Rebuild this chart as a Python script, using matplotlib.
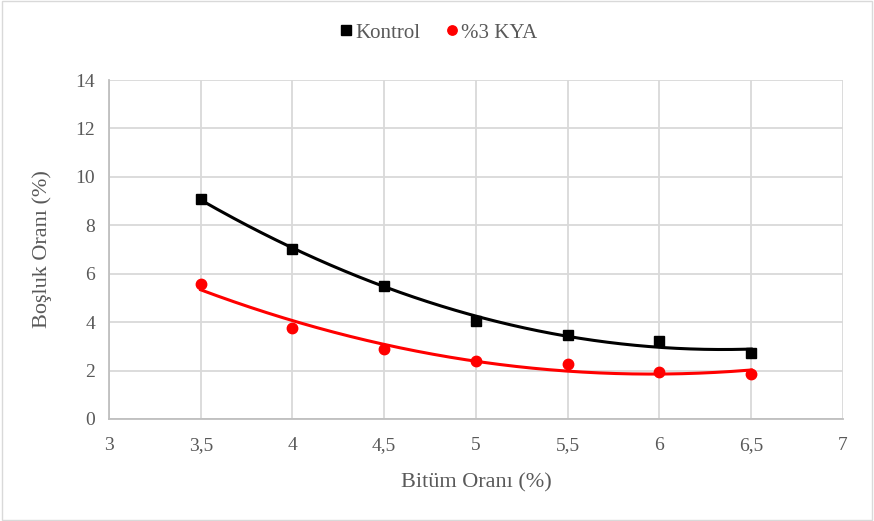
import numpy as np
import matplotlib
matplotlib.use("Agg")
import matplotlib.pyplot as plt
from matplotlib.patches import Rectangle

plt.rcParams['font.family'] = ['Liberation Serif', 'DejaVu Serif']

bitum = [3.5, 4.0, 4.5, 5.0, 5.5, 6.0, 6.5]
kontrol = [9.1, 7.02, 5.5, 4.05, 3.47, 3.22, 2.73]
kya = [5.58, 3.77, 2.9, 2.4, 2.27, 1.94, 1.86]

xticks = [3, 3.5, 4, 4.5, 5, 5.5, 6, 6.5, 7]
xticklabels = ["3", "3,5", "4", "4,5", "5", "5,5", "6", "6,5", "7"]
yticks = [0, 2, 4, 6, 8, 10, 12, 14]

text_c = "#595959"
grid_c = "#d9d9d9"

fig = plt.figure(figsize=(8.74, 5.21), dpi=100)
fig.patches.append(Rectangle((0.002, 0.002), 0.996, 0.996, transform=fig.transFigure,
                             fill=False, edgecolor="#d9d9d9", linewidth=1.0))
ax = fig.add_axes([0.1247, 0.1958, 0.8398, 0.6506])

# second-order polynomial trendlines
xs = np.linspace(3.5, 6.5, 200)
for y, col in ((kontrol, "black"), (kya, "#ff0000")):
    c = np.polyfit(bitum, y, 2)
    ax.plot(xs, np.polyval(c, xs), color=col, linewidth=2.2, zorder=3)

ax.plot(bitum, kontrol, linestyle="none", marker="s", markersize=7.5,
        color="black", label="Kontrol", zorder=4)
ax.plot(bitum, kya, linestyle="none", marker="o", markersize=7.5,
        color="#ff0000", label="%3 KYA", zorder=4)

ax.set_xlim(3, 7)
ax.set_ylim(0, 14)
ax.set_xticks(xticks)
ax.set_xticklabels(xticklabels)
ax.set_yticks(yticks)
ax.grid(True, color=grid_c, linewidth=1.3)
ax.set_axisbelow(True)
for s in ("top", "right"):
    ax.spines[s].set_visible(False)
for s in ("left", "bottom"):
    ax.spines[s].set_color("#bfbfbf")
    ax.spines[s].set_linewidth(1.3)
ax.tick_params(axis="x", length=0, labelsize=14, colors=text_c, pad=13)
ax.tick_params(axis="y", length=0, labelsize=14, colors=text_c, pad=10)

ax.set_xlabel("Bitüm Oranı (%)", fontsize=16, color=text_c, labelpad=14)
ax.set_ylabel("Boşluk Oranı (%)", fontsize=16, color=text_c, labelpad=17)

fig.legend(loc="center", bbox_to_anchor=(0.502, 0.937), ncol=2, frameon=False,
           fontsize=15, handlelength=0.6, handletextpad=0.15, columnspacing=1.2,
           labelcolor=text_c, markerscale=0.9)

fig.savefig("out.png", dpi=100)
